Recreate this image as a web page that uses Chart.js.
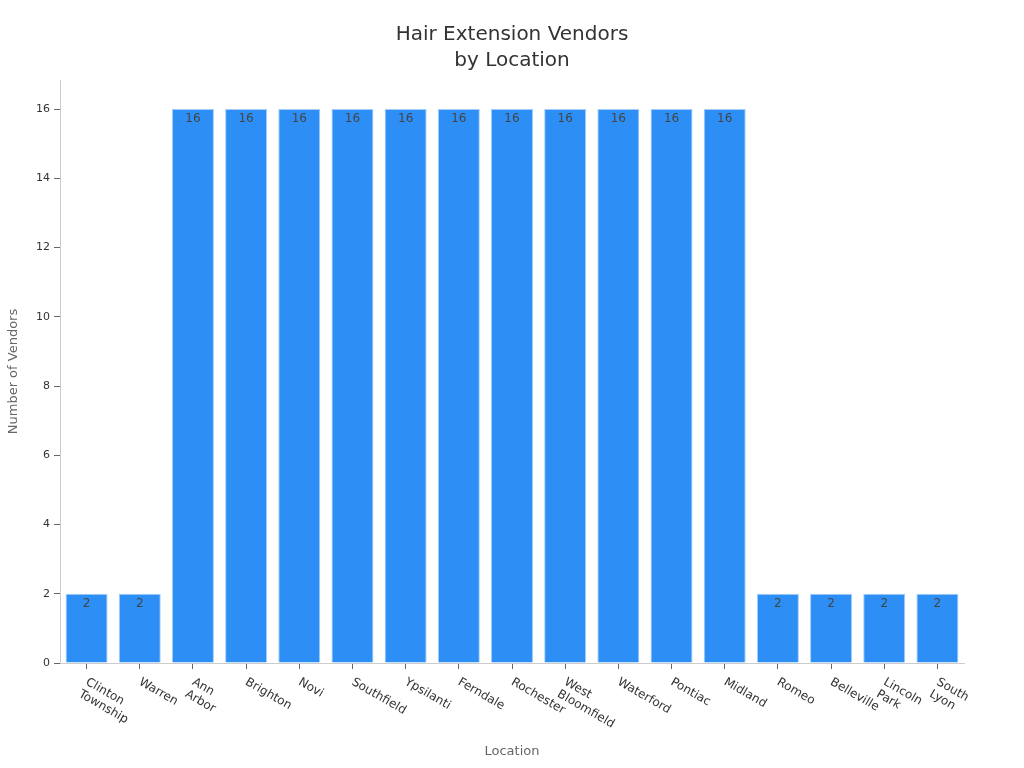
<!DOCTYPE html>
<html>
<head>
<meta charset="utf-8">
<script src="https://cdn.jsdelivr.net/npm/chart.js@4"></script>
<style>
  html, body { margin: 0; padding: 0; background: #fff; }
  #wrap { width: 1024px; height: 768px; }
</style>
</head>
<body>
<div id="wrap"><canvas id="bar"></canvas></div>
<script>
// data
const locations = [
  ['Clinton', 'Township'], 'Warren', ['Ann', 'Arbor'], 'Brighton', 'Novi',
  'Southfield', 'Ypsilanti', 'Ferndale', 'Rochester', ['West', 'Bloomfield'],
  'Waterford', 'Pontiac', 'Midland', 'Romeo', 'Belleville', ['Lincoln', 'Park'],
  ['South', 'Lyon']
];
const vendors = [2, 2, 16, 16, 16, 16, 16, 16, 16, 16, 16, 16, 16, 2, 2, 2, 2];
const yTicks = [0, 2, 4, 6, 8, 10, 12, 14, 16];

const FONT = "'DejaVu Sans', sans-serif";
Chart.defaults.font.family = FONT;

// rotated x labels, text starts at the tick and runs down-right
const xLabels = {
  id: 'xLabels',
  afterDraw(chart) {
    const ctx = chart.ctx;
    const x = chart.scales.x;
    ctx.save();
    ctx.font = '12px ' + FONT;
    ctx.fillStyle = '#333';
    ctx.textAlign = 'left';
    ctx.textBaseline = 'top';
    locations.forEach((lab, i) => {
      const lines = Array.isArray(lab) ? lab : [lab];
      ctx.save();
      ctx.translate(x.getPixelForTick(i) + 3, x.top + 13);
      ctx.rotate(Math.PI / 6);
      lines.forEach((l, j) => ctx.fillText(l, 0, j * 14));
      ctx.restore();
    });
    ctx.restore();
  }
};

// value labels inside the top of each bar
const barValues = {
  id: 'barValues',
  afterDatasetsDraw(chart) {
    const ctx = chart.ctx;
    const meta = chart.getDatasetMeta(0);
    ctx.save();
    ctx.font = '12px ' + FONT;
    ctx.fillStyle = '#444';
    ctx.textAlign = 'center';
    ctx.textBaseline = 'middle';
    meta.data.forEach((b, i) => {
      ctx.fillText(String(vendors[i]), b.x, b.y + 10);
    });
    ctx.restore();
  }
};

const barchart = new Chart(document.getElementById('bar').getContext('2d'), {
  type: 'bar',
  data: {
    labels: locations.map(l => Array.isArray(l) ? l.join(' ') : l),
    datasets: [{
      label: 'Number of Vendors',
      data: vendors,
      backgroundColor: '#2d8ff5',
      borderColor: '#a3cdf8',
      borderWidth: 1,
      barPercentage: 0.79,
      categoryPercentage: 1
    }]
  },
  options: {
    responsive: true,
    maintainAspectRatio: false,
    animation: false,
    layout: { padding: 0 },
    scales: {
      x: {
        afterFit(scale) { scale.height = 105; },
        grid: { display: true, offset: false, drawOnChartArea: false, drawTicks: true, tickLength: 6, tickColor: '#666' },
        border: { color: '#ccc' },
        ticks: { display: false },
        title: {
          display: true, text: 'Location', color: '#666',
          font: { size: 13 }, padding: { top: 0, bottom: 9 }
        }
      },
      y: {
        min: 0,
        max: 16.84,
        afterFit(scale) { scale.width = 60; },
        afterBuildTicks(scale) { scale.ticks = yTicks.map(v => ({ value: v })); },
        grid: { display: true, drawOnChartArea: false, drawTicks: true, tickLength: 6, tickColor: '#666' },
        border: { color: '#ccc' },
        ticks: { color: '#333', font: { size: 11 }, padding: 4 },
        title: {
          display: true, text: 'Number of Vendors', color: '#666',
          font: { size: 13 }, padding: { top: 6, bottom: 0 }
        }
      },
      // empty right-hand box, keeps the title centred on the page
      yRight: {
        position: 'right',
        display: true,
        afterFit(scale) { scale.width = 60; },
        grid: { display: false },
        border: { display: false },
        ticks: { display: false }
      }
    },
    plugins: {
      legend: { display: false },
      tooltip: { enabled: false },
      title: {
        display: true,
        text: ['Hair Extension Vendors', 'by Location'],
        color: '#333',
        font: { size: 20, weight: 'normal', lineHeight: 1.3 },
        padding: { top: 22, bottom: 6 }
      }
    }
  },
  plugins: [xLabels, barValues]
});
</script>
</body>
</html>
